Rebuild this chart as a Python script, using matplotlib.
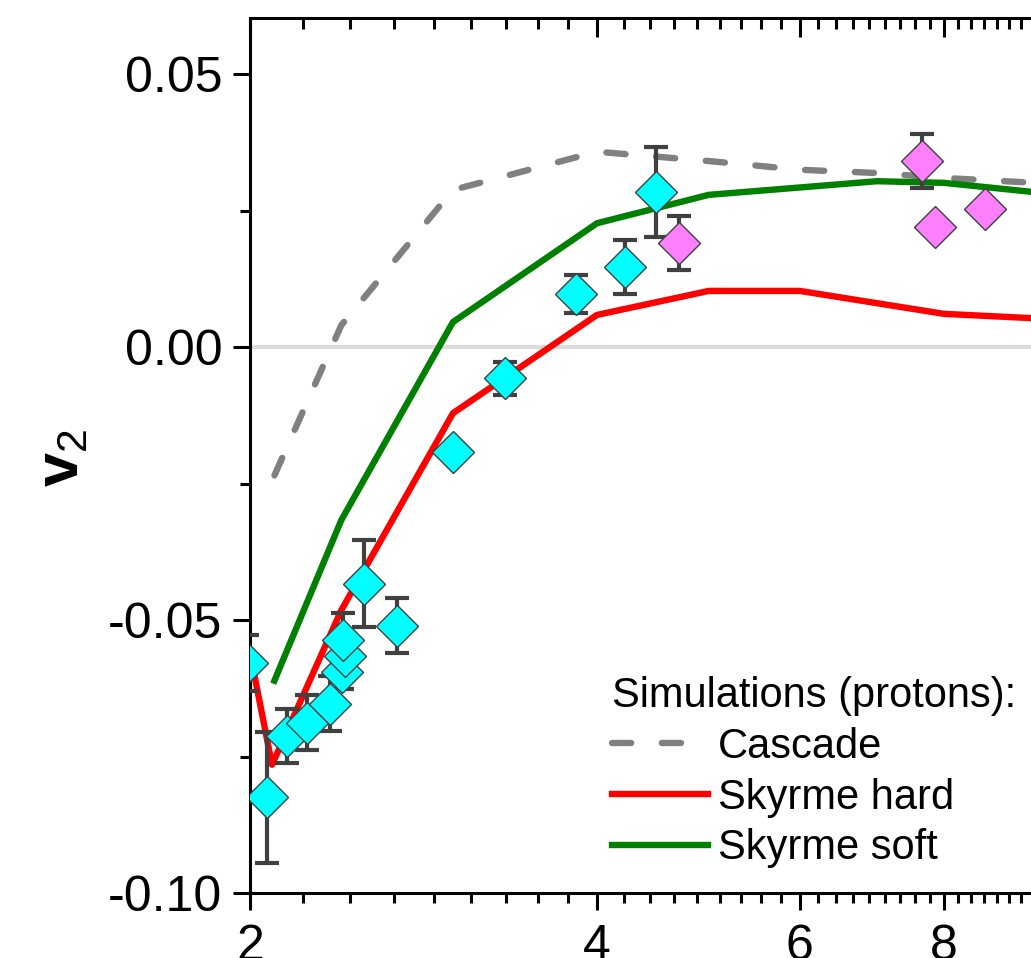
import numpy as np
import matplotlib
matplotlib.use("Agg")
import matplotlib.pyplot as plt
from matplotlib.ticker import FixedLocator, FormatStrFormatter, NullFormatter

plt.rcParams['font.family'] = ['Liberation Sans', 'DejaVu Sans']
plt.rcParams['axes.unicode_minus'] = False
plt.rcParams['mathtext.fontset'] = 'custom'
plt.rcParams['mathtext.rm'] = 'Liberation Sans'
plt.rcParams['mathtext.bf'] = 'Liberation Sans:bold'

# measured data (cyan = experiments, several sets)
cyan_x = [1.99, 2.069, 2.152, 2.241, 2.347, 2.405, 2.42, 2.41, 2.512, 2.682, 3.0, 3.33, 3.835, 4.229, 4.50]
cyan_y = [-0.0579, -0.0825, -0.0712, -0.0688, -0.0653, -0.0596, -0.0565, -0.0537, -0.0433, -0.0510,
          -0.0193, -0.0057, 0.0097, 0.0147, 0.0284]
cyan_err = [0.0051, 0.012, 0.005, 0.005, 0.005, 0.003, 0.004, 0.005, 0.008, 0.005,
            0.0, 0.003, 0.0035, 0.005, 0.0083]

pink_x = [4.71, 7.66, 7.86, 8.68]
pink_y = [0.0191, 0.0341, 0.0220, 0.0253]
pink_err = [0.005, 0.005, 0.0, 0.0]

# simulations (protons)
casc_x = [2.1, 2.4, 3, 4, 5, 6, 7, 8, 10]
casc_y = [-0.0235, 0.0040, 0.0288, 0.0358, 0.0341, 0.0325, 0.0319, 0.0310, 0.0299]
hard_x = [2.0, 2.09, 2.4, 3, 4, 5, 6, 8, 10]
hard_y = [-0.0560, -0.0765, -0.0482, -0.0121, 0.0059, 0.0103, 0.0103, 0.0061, 0.0051]
soft_x = [2.1, 2.4, 3, 4, 5, 7, 8, 10]
soft_y = [-0.0611, -0.0317, 0.0046, 0.0227, 0.0279, 0.0304, 0.0301, 0.0280]

x_major = [2, 4, 6, 8]
y_major = [-0.10, -0.05, 0.00, 0.05]
y_minor = [-0.075, -0.025, 0.025]

fig = plt.figure(figsize=(10.31, 9.58), dpi=100)
ax = fig.add_axes([250 / 1031, 65 / 958, 781 / 1031, 875 / 958])

ax.axhline(0, color='#dcdcdc', lw=3, zorder=0)

ax.plot(casc_x, casc_y, color='#808080', lw=4.6, dashes=(3.0, 4.8),
        dash_capstyle='round', label='Cascade', zorder=2)
ax.plot(hard_x, hard_y, color='#ff0000', lw=4.6, label='Skyrme hard', zorder=2)
ax.plot(soft_x, soft_y, color='#008000', lw=4.6, label='Skyrme soft', zorder=2)

for xs, ys, es, col in [(cyan_x, cyan_y, cyan_err, '#00ffff'), (pink_x, pink_y, pink_err, '#ff80ff')]:
    ax.errorbar(xs, ys, yerr=es, fmt='none', ecolor='#404040', elinewidth=3.0,
                capsize=8.3, capthick=3.0, zorder=3)
    ax.plot(xs, ys, 'D', ms=21.5, mfc=col, mec='#404040', mew=1.0, zorder=4)

ax.set_xscale('log')
ax.set_xlim(2.0, 9.52)
ax.set_ylim(-0.10, 0.0603)

minor_x = [v for v in np.arange(2, 9.6, 2 / 9) if min(abs(v - m) for m in x_major) > 1e-6]

ax.xaxis.set_major_locator(FixedLocator(x_major))
ax.xaxis.set_major_formatter(FormatStrFormatter('%g'))
ax.xaxis.set_minor_locator(FixedLocator(minor_x))
ax.xaxis.set_minor_formatter(NullFormatter())
ax.yaxis.set_major_locator(FixedLocator(y_major))
ax.yaxis.set_major_formatter(FormatStrFormatter('%.2f'))
ax.yaxis.set_minor_locator(FixedLocator(y_minor))

for s in ['left', 'bottom', 'top']:
    ax.spines[s].set_linewidth(2.2)
ax.spines['right'].set_visible(False)

ax.tick_params(axis='both', which='major', direction='out', length=12, width=2.2,
               labelsize=36, pad=8)
ax.tick_params(axis='x', which='major', pad=10)
ax.tick_params(axis='both', which='minor', direction='out', length=7, width=2.2)
ax.tick_params(axis='y', which='both', right=False)

# top axis: ticks pointing inward
top = ax.twiny()
top.set_xscale('log')
top.set_xlim(ax.get_xlim())
top.xaxis.set_major_locator(FixedLocator(x_major))
top.xaxis.set_minor_locator(FixedLocator(minor_x))
top.xaxis.set_major_formatter(NullFormatter())
top.xaxis.set_minor_formatter(NullFormatter())
top.tick_params(axis='x', which='major', direction='in', length=14, width=2.2)
top.tick_params(axis='x', which='minor', direction='in', length=8, width=2.2)
for s in top.spines.values():
    s.set_visible(False)

ax.set_ylabel(r'$\mathbf{v}_2$', fontsize=44)
ax.yaxis.set_label_coords(-0.204, 0.497)

leg = ax.legend(loc='upper left', bbox_to_anchor=(0.4635, 0.248), frameon=False,
                title='Simulations (protons):', alignment='left', fontsize=30,
                title_fontsize=30, handlelength=2.3, handletextpad=0.24,
                labelspacing=0.26, borderpad=0, borderaxespad=0)

fig.savefig('out.png', dpi=100)
